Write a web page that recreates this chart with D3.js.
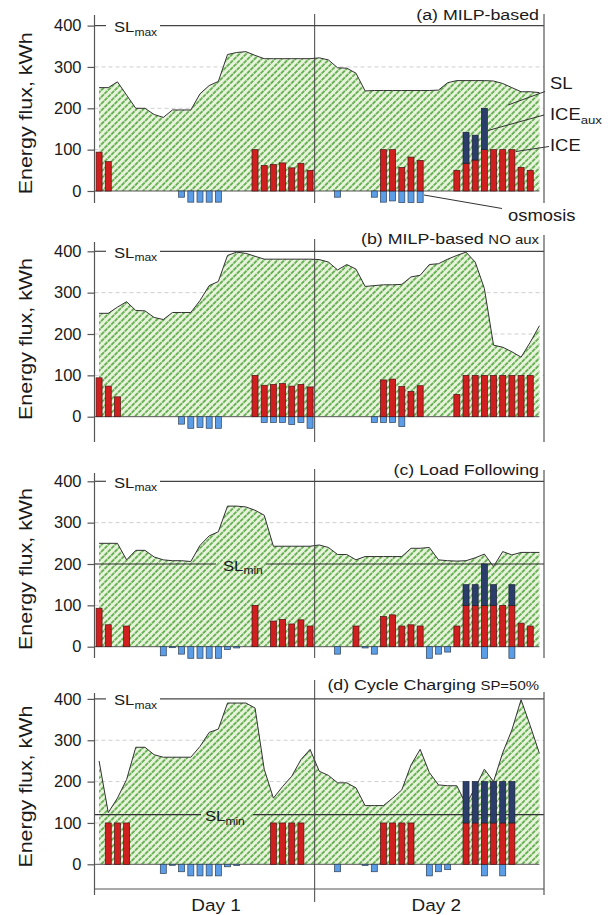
<!DOCTYPE html>
<html>
<head>
<meta charset="utf-8">
<script src="https://cdn.jsdelivr.net/npm/d3@7"></script>
<style>
  body { margin: 0; background: #fff; }
  svg text { font-family: "Liberation Sans", Arial, Helvetica, sans-serif; fill: #1a1a1a; }
</style>
</head>
<body>
<svg id="chart" width="610" height="915"></svg>
<script>
// storage level (SL), 49 points: hour 0..48
const slA = [250,250,264,232,200,200,185,178,196,196, 196,235,255,265,330,335,337,328,320,320,
             320,320,320,320,322,317,298,297,285,242, 243,243,243,243,243,243,243,244,262,267,
             267,267,267,266,260,250,240,240,238];
const slB = [250,250,265,278,257,256,240,235,252,252, 252,281,317,327,390,398,395,388,381,381,
             381,381,381,381,380,374,355,368,357,315, 317,319,319,320,338,342,368,370,381,390,
             398,374,310,173,168,157,144,180,220];
const slC = [250,250,250,210,233,233,217,210,208,208, 206,245,268,278,340,340,338,330,318,243,
             243,243,243,243,246,240,223,223,210,218, 218,218,218,218,238,238,240,210,208,207,
             208,215,224,194,230,222,228,228,228];
const slD = [250,125,160,205,283,283,265,259,259,259, 259,285,319,327,390,390,390,378,230,160,
             188,213,253,278,225,215,197,197,185,142, 142,142,160,180,240,278,222,192,190,190,
             145,185,230,200,270,325,398,335,268];

// hourly bars, 48 values (day 1 row, day 2 row)
const iceA = [94,71,0,0,0,0,0,0,0,0,0,0,0,0,0,0,0,100,62,64,68,56,67,50,
              0,0,0,0,0,0,0,100,100,57,82,74,0,0,0,50,67,75,100,100,100,100,57,50];
const auxA = [0,0,0,0,0,0,0,0,0,0,0,0,0,0,0,0,0,0,0,0,0,0,0,0,
              0,0,0,0,0,0,0,0,0,0,0,0,0,0,0,0,75,60,100,0,0,0,0,0];
const osmA = [0,0,0,0,0,0,0,0,0,-15,-27,-27,-27,-27,0,0,0,0,0,0,0,0,0,0,
              0,0,-15,0,0,0,-15,-27,-24,-28,-28,-28,0,0,0,0,0,0,0,0,0,0,0,0];

const iceB = [94,74,48,0,0,0,0,0,0,0,0,0,0,0,0,0,0,100,76,78,80,74,78,72,
              0,0,0,0,0,0,0,89,91,73,61,75,0,0,0,54,100,100,100,100,100,100,100,100];
const osmB = [0,0,0,0,0,0,0,0,0,-18,-28,-26,-28,-28,0,0,0,0,-14,-14,-14,-19,-14,-28,
              0,0,0,0,0,0,-14,-14,-14,-24,0,0,0,0,0,0,0,0,0,0,0,0,0,0];

const iceC = [93,53,0,50,0,0,0,0,0,0,0,0,0,0,0,0,0,100,0,62,66,55,65,50,
              0,0,0,0,50,0,0,73,77,50,53,50,0,0,0,50,100,100,100,100,100,100,57,50];
const auxC = [0,0,0,0,0,0,0,0,0,0,0,0,0,0,0,0,0,0,0,0,0,0,0,0,
              0,0,0,0,0,0,0,0,0,0,0,0,0,0,0,0,50,50,100,50,0,50,0,0];
const osmC = [0,0,0,0,0,0,0,-22,-2,-18,-28,-28,-28,-28,-7,-3,0,0,0,0,0,0,0,0,
              0,0,-18,0,0,-3,-18,0,0,0,0,0,-28,-18,-13,0,0,0,-28,0,0,-28,0,0];

const iceD = [0,100,100,100,0,0,0,0,0,0,0,0,0,0,0,0,0,0,0,100,100,100,100,0,
              0,0,0,0,0,0,0,100,100,100,100,0,0,0,0,0,100,100,100,100,100,100,0,0];
const auxD = [0,0,0,0,0,0,0,0,0,0,0,0,0,0,0,0,0,0,0,0,0,0,0,0,
              0,0,0,0,0,0,0,0,0,0,0,0,0,0,0,0,100,100,100,100,100,100,0,0];
const osmD = [0,0,0,0,0,0,0,-22,-2,-18,-28,-28,-28,-28,-6,-3,0,0,0,0,0,0,0,0,
              0,0,-18,0,0,-3,-18,0,0,0,0,0,-28,-18,-13,0,0,0,-28,0,-28,0,0,0];

const yTicks = [0, 100, 200, 300, 400];
const gridVals = [100, 200, 300];
const slMaxVal = 400;
const dayLabels = ["Day 1", "Day 2"];

// panel layout
const panels = [
  { title: "(a) MILP-based", sub: "", sl: slA, ice: iceA, aux: auxA, osm: osmA,
    zero: 191, top: 15, bot: 203, divTop: 14, rTop: 14, titleY: 20 },
  { title: "(b) MILP-based", sub: "NO aux", sl: slB, ice: iceB, aux: null, osm: osmB,
    zero: 416.7, top: 242, bot: 442, divTop: 239, rTop: 235, titleY: 244 },
  { title: "(c) Load Following", sub: "", sl: slC, ice: iceC, aux: auxC, osm: osmC,
    zero: 646.7, top: 473, bot: 658, divTop: 469, rTop: 470, titleY: 475,
    slMin: 200, minGap: [216, 266], minLabelX: 223 },
  { title: "(d) Cycle Charging", sub: "SP=50%", sl: slD, ice: iceD, aux: auxD, osm: osmD,
    zero: 864.3, top: 693, bot: 895, divTop: 680, divBot: 902, rTop: 692, titleY: 690,
    slMin: 120, minGap: [201, 253], minLabelX: 205, xAxisY: 889 }
];

const svg = d3.select("#chart");
const defs = svg.append("defs");
const pat = defs.append("pattern").attr("id", "hatch")
  .attr("patternUnits", "userSpaceOnUse").attr("width", 4.8).attr("height", 4.8)
  .attr("patternTransform", "rotate(45)");
pat.append("rect").attr("width", 4.8).attr("height", 4.8).attr("fill", "#e8f3dc");
pat.append("line").attr("x1", 1).attr("x2", 1).attr("y1", 0).attr("y2", 4.8)
  .attr("stroke", "#4fa43a").attr("stroke-width", 1.6).attr("stroke-dasharray", "2.2 0.6");

const x = d3.scaleLinear().domain([-0.5, 48.5]).range([94.5, 544]);
const bw = 6;
const xL = x(-0.5), xR = x(48.5);

// text squeezed like the original figure (slightly wide glyphs)
function label(g, px, py, parts, size, anchor) {
  const t = g.append("text")
    .attr("transform", `translate(${px},${py}) scale(1.15,1)`)
    .attr("font-size", size).attr("text-anchor", anchor || "start");
  parts.forEach(p => {
    t.append("tspan").text(p.t)
      .attr("font-size", p.size || size)
      .attr("dy", p.dy || 0).attr("dx", p.dx || 0);
  });
  return t;
}

panels.forEach(p => {
  const y = d3.scaleLinear().domain([0, 400]).range([p.zero, p.zero - 165.4]);
  const g = svg.append("g");

  // dashed grid
  g.selectAll("line.grid").data(gridVals).join("line")
    .attr("x1", xL).attr("x2", xR).attr("y1", d => y(d)).attr("y2", d => y(d))
    .attr("stroke", "#cfcfcf").attr("stroke-dasharray", "4 3");

  // storage level area
  const area = d3.area().x((d, i) => x(i)).y0(y(0)).y1(d => y(d));
  const line = d3.line().x((d, i) => x(i)).y(d => y(d));
  g.append("path").attr("d", area(p.sl)).attr("fill", "url(#hatch)");
  g.append("path").attr("d", line(p.sl)).attr("fill", "none").attr("stroke", "#333").attr("stroke-width", 1);

  // zero line
  g.append("line").attr("x1", xL).attr("x2", x(48)).attr("y1", y(0)).attr("y2", y(0))
    .attr("stroke", "#555").attr("stroke-width", 1);

  // SL max
  g.append("line").attr("x1", xL).attr("x2", 106).attr("y1", y(slMaxVal)).attr("y2", y(slMaxVal))
    .attr("stroke", "#444").attr("stroke-width", 1.2);
  g.append("line").attr("x1", 160).attr("x2", xR).attr("y1", y(slMaxVal)).attr("y2", y(slMaxVal))
    .attr("stroke", "#444").attr("stroke-width", 1.2);
  label(g, 114, y(slMaxVal) + 6.5, [{ t: "SL" }, { t: "max", size: 10.5, dy: 3.5 }], 14.5);

  // SL min
  if (p.slMin != null) {
    g.append("line").attr("x1", xL).attr("x2", p.minGap[0]).attr("y1", y(p.slMin)).attr("y2", y(p.slMin))
      .attr("stroke", "#333").attr("stroke-width", 1.2);
    g.append("line").attr("x1", p.minGap[1]).attr("x2", xR).attr("y1", y(p.slMin)).attr("y2", y(p.slMin))
      .attr("stroke", "#333").attr("stroke-width", 1.2);
    label(g, p.minLabelX, y(p.slMin) + 6.5, [{ t: "SL" }, { t: "min", size: 10.5, dy: 3.5 }], 14.5);
  }

  // osmosis bars
  g.selectAll("rect.osm").data(p.osm.map((v, i) => ({ v, i })).filter(d => d.v < 0)).join("rect")
    .attr("x", d => x(d.i) - bw / 2).attr("width", bw)
    .attr("y", y(0)).attr("height", d => Math.max(1, y(d.v) - y(0)))
    .attr("fill", "#5b9de6").attr("stroke", "#2d3f55").attr("stroke-width", 0.7);

  // ICE bars
  g.selectAll("rect.ice").data(p.ice.map((v, i) => ({ v, i })).filter(d => d.v > 0)).join("rect")
    .attr("x", d => x(d.i) - bw / 2).attr("width", bw)
    .attr("y", d => y(d.v)).attr("height", d => y(0) - y(d.v))
    .attr("fill", "#d11f1f").attr("stroke", "#4a1515").attr("stroke-width", 0.7);

  // auxiliary ICE on top
  if (p.aux) {
    g.selectAll("rect.aux").data(p.aux.map((v, i) => ({ v, i, b: p.ice[i] })).filter(d => d.v > 0)).join("rect")
      .attr("x", d => x(d.i) - bw / 2).attr("width", bw)
      .attr("y", d => y(d.b + d.v)).attr("height", d => y(d.b) - y(d.b + d.v))
      .attr("fill", "#2b3e6b").attr("stroke", "#1a2235").attr("stroke-width", 0.7);
  }

  // axes
  g.append("line").attr("x1", xL).attr("x2", xL).attr("y1", p.top).attr("y2", p.bot)
    .attr("stroke", "#555").attr("stroke-width", 1.2);
  const ax = g.append("g").attr("transform", `translate(${xL},0)`)
    .call(d3.axisLeft(y).tickValues(yTicks).tickSize(7).tickPadding(6));
  ax.select(".domain").remove();
  ax.selectAll(".tick line").attr("stroke", "#555").attr("stroke-width", 1.2);
  ax.selectAll(".tick text").attr("font-size", 16.5).attr("fill", "#1a1a1a")
    .attr("font-family", "'Liberation Sans', Arial, sans-serif");

  g.append("line").attr("x1", x(23.5)).attr("x2", x(23.5)).attr("y1", p.divTop).attr("y2", p.divBot || p.bot)
    .attr("stroke", "#444").attr("stroke-width", 1);
  g.append("line").attr("x1", xR).attr("x2", xR).attr("y1", p.rTop).attr("y2", p.bot)
    .attr("stroke", "#555").attr("stroke-width", 1.2);

  if (p.xAxisY) {
    g.append("line").attr("x1", xL).attr("x2", xR).attr("y1", p.xAxisY).attr("y2", p.xAxisY)
      .attr("stroke", "#555").attr("stroke-width", 1.2);
    dayLabels.forEach((d, i) => {
      label(g, x(12.75 + 24 * i), 911, [{ t: d }], 16.5, "middle");
    });
  }

  // panel title
  const parts = [{ t: p.title }];
  if (p.sub) parts.push({ t: p.sub, size: 13, dx: 4 });
  label(g, 539, p.titleY, parts, 15.5, "end");

  // y title
  g.append("text")
    .attr("transform", `translate(31.5,${y(200) + 5}) rotate(-90)`)
    .attr("text-anchor", "middle").attr("font-size", 19)
    .attr("textLength", 162).attr("lengthAdjust", "spacingAndGlyphs")
    .text("Energy flux, kWh");
});

// annotations for panel (a)
const ann = svg.append("g");
const leaders = [
  [545, 91.5, 508, 105],
  [544, 115, 488, 130.5],
  [549, 146.5, 516, 151.5],
  [424, 195, 502, 208.5]
];
ann.selectAll("line").data(leaders).join("line")
  .attr("x1", d => d[0]).attr("y1", d => d[1]).attr("x2", d => d[2]).attr("y2", d => d[3])
  .attr("stroke", "#333").attr("stroke-width", 1);
label(ann, 550, 89, [{ t: "SL" }], 16);
label(ann, 550, 120, [{ t: "ICE" }, { t: "aux", size: 11.5, dy: 3.5 }], 16);
label(ann, 550, 151, [{ t: "ICE" }], 16);
label(ann, 508, 221, [{ t: "osmosis" }], 16);
</script>
</body>
</html>
